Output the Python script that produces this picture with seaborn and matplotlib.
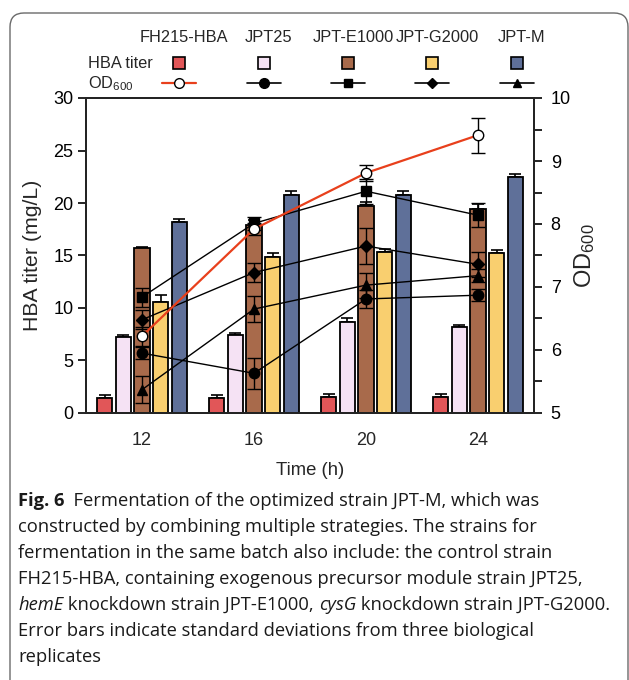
import numpy as np
import pandas as pd
import matplotlib
matplotlib.use("Agg")
import matplotlib.pyplot as plt
import seaborn as sns
from matplotlib.lines import Line2D
from matplotlib.patches import FancyBboxPatch, Rectangle
from matplotlib.transforms import IdentityTransform

# ---------------- data ----------------
times = ["12", "16", "20", "24"]
strains = ["FH215-HBA", "JPT25", "JPT-E1000", "JPT-G2000", "JPT-M"]

hba_fh215 = [1.4, 1.4, 1.5, 1.5]
hba_jpt25 = [7.2, 7.4, 8.7, 8.2]
hba_e1000 = [15.7, 17.9, 19.7, 19.4]
hba_g2000 = [10.6, 14.9, 15.3, 15.2]
hba_m = [18.2, 20.8, 20.8, 22.5]

hba_err_fh215 = [0.3, 0.3, 0.3, 0.3]
hba_err_jpt25 = [0.2, 0.2, 0.3, 0.2]
hba_err_e1000 = [0.1, 0.5, 0.4, 0.5]
hba_err_g2000 = [0.6, 0.3, 0.3, 0.3]
hba_err_m = [0.3, 0.3, 0.3, 0.3]

od_fh215 = [6.22, 7.92, 8.81, 9.41]
od_jpt25 = [5.95, 5.63, 6.81, 6.87]
od_e1000 = [6.84, 8.01, 8.52, 8.14]
od_g2000 = [6.48, 7.23, 7.65, 7.36]
od_m = [5.37, 6.65, 7.03, 7.18]

od_err_fh215 = [0.15, 0.1, 0.12, 0.28]
od_err_jpt25 = [0.1, 0.25, 0.15, 0.1]
od_err_e1000 = [0.15, 0.1, 0.2, 0.19]
od_err_g2000 = [0.15, 0.15, 0.29, 0.2]
od_err_m = [0.21, 0.2, 0.2, 0.1]

bar_colors = ["#E15658", "#F5E2F4", "#A86A4B", "#F9CF6F", "#5F7099"]
od_markers = ["o", "o", "s", "D", "^"]
od_facecolors = ["white", "black", "black", "black", "black"]
od_linecolors = ["#E8401C", "black", "black", "black", "black"]

caption_lines = [
    [("Fig. 6", "bold"), ("  Fermentation of the optimized strain JPT-M, which was", "normal")],
    [("constructed by combining multiple strategies. The strains for", "normal")],
    [("fermentation in the same batch also include: the control strain", "normal")],
    [("FH215-HBA, containing exogenous precursor module strain JPT25,", "normal")],
    [("hemE", "italic"), (" knockdown strain JPT-E1000, ", "normal"), ("cysG", "italic"),
     (" knockdown strain JPT-G2000.", "normal")],
    [("Error bars indicate standard deviations from three biological", "normal")],
    [("replicates", "normal")],
]

# ---------------- style ----------------
sns.set_theme(style="ticks")
plt.rcParams["font.family"] = ["Liberation Sans", "DejaVu Sans"]
plt.rcParams["mathtext.fontset"] = "custom"
plt.rcParams["mathtext.rm"] = "Liberation Sans"
plt.rcParams["mathtext.it"] = "Liberation Sans:italic"
plt.rcParams["axes.linewidth"] = 1.3

W, H = 629, 680
fig = plt.figure(figsize=(W / 100, H / 100), dpi=100)
fig.patch.set_facecolor("white")

def fx(px):
    return px / W

def fy(py):
    return 1 - py / H

ax = fig.add_axes([fx(86), fy(413), (534 - 86) / W, (413 - 98) / H])

hba_vals = [hba_fh215, hba_jpt25, hba_e1000, hba_g2000, hba_m]
hba_errs = [hba_err_fh215, hba_err_jpt25, hba_err_e1000, hba_err_g2000, hba_err_m]
rows = []
for s, vals in zip(strains, hba_vals):
    for t, v in zip(times, vals):
        rows.append({"Time": t, "Strain": s, "HBA": v})
df = pd.DataFrame(rows)

sns.barplot(data=df, x="Time", y="HBA", hue="Strain", order=times, hue_order=strains,
            palette=dict(zip(strains, bar_colors)), errorbar=None, width=0.83, gap=0.18,
            edgecolor="black", linewidth=1.3, saturation=1, legend=False, ax=ax, zorder=3)

for cont, errs, vals in zip(ax.containers, hba_errs, hba_vals):
    xs = [p.get_x() + p.get_width() / 2 for p in cont.patches]
    ax.errorbar(xs, vals, yerr=[np.zeros(len(errs)), errs], fmt="none", ecolor="black",
                elinewidth=1.2, capsize=4, capthick=1.2, zorder=2)

ax.set_ylim(0, 30)
ax.set_xlim(-0.5, 3.5)
ax.set_yticks(range(0, 31, 5))
ax.tick_params(axis="y", direction="out", length=6, width=1.2, labelsize=13, pad=3, colors="black")
ax.tick_params(axis="x", length=0, labelsize=13, pad=14)
ax.set_xlabel("Time (h)", fontsize=13.3, labelpad=9)
ax.set_ylabel("HBA titer (mg/L)", fontsize=15.3, labelpad=8)
for sp in ax.spines.values():
    sp.set_visible(True)
    sp.set_color("black")

ax2 = ax.twinx()
ax2.set_ylim(5, 10)
ax2.set_yticks(range(5, 11))
ax2.set_yticks(np.arange(5.5, 10, 1.0), minor=True)
ax2.tick_params(axis="y", which="both", direction="out", length=6, width=1.2,
                labelsize=13, pad=6, colors="black")
ax2.set_ylabel("OD$_{600}$", fontsize=17, labelpad=1, rotation=90)

od_vals = [od_fh215, od_jpt25, od_e1000, od_g2000, od_m]
od_errs = [od_err_fh215, od_err_jpt25, od_err_e1000, od_err_g2000, od_err_m]
xpos = np.arange(len(times))
order_draw = [1, 2, 3, 4, 0]
for k in order_draw:
    lw = 1.6 if k == 0 else 1.0
    ms = 7.5 if od_markers[k] == "o" else (6 if od_markers[k] == "D" else 6.5)
    ax2.errorbar(xpos, od_vals[k], yerr=od_errs[k], fmt="none", ecolor="black",
                 elinewidth=1.0, capsize=5, capthick=1.0, zorder=4)
    sns.lineplot(x=xpos, y=od_vals[k], ax=ax2, color=od_linecolors[k], linewidth=lw,
                 marker=od_markers[k], markersize=ms, markerfacecolor=od_facecolors[k],
                 markeredgecolor="black", markeredgewidth=1.0, zorder=5)

# ---------------- legend at top ----------------
leg_x = [179, 264, 348, 432, 517]
for name, x in zip(strains, leg_x):
    fig.text(fx(x + 5), fy(38), name, ha="center", va="center", fontsize=11.8)
fig.text(fx(88), fy(63), "HBA titer", ha="left", va="center", fontsize=11.8)
fig.text(fx(88), fy(84), "OD$_{600}$", ha="left", va="center", fontsize=11.8)
for k, x in enumerate(leg_x):
    r = Rectangle((x - 6, H - 63 - 6), 12, 12, facecolor=bar_colors[k], edgecolor="black",
                  linewidth=1.2, transform=IdentityTransform())
    fig.patches.append(r)
    ms = 7 if od_markers[k] == "o" else (5.5 if od_markers[k] == "D" else 6)
    ln = Line2D([x - 17, x + 17], [H - 83, H - 83], color=od_linecolors[k],
                linewidth=1.6 if k == 0 else 1.2, transform=IdentityTransform())
    mk = Line2D([x], [H - 83], marker=od_markers[k], markersize=ms, markerfacecolor=od_facecolors[k],
                markeredgecolor="black", markeredgewidth=1.0, linestyle="none",
                transform=IdentityTransform())
    fig.lines.extend([ln, mk])

# ---------------- frame ----------------
frame = FancyBboxPatch((10, -40), 618, H - 13 + 40, boxstyle="round,pad=0,rounding_size=14",
                       facecolor="none", edgecolor="#6a6a6a", linewidth=1.0,
                       transform=IdentityTransform())
fig.patches.append(frame)

# ---------------- caption ----------------
fig.canvas.draw()
renderer = fig.canvas.get_renderer()
cap_font = ["Open Sans", "DejaVu Sans"]
y0 = 501
for i, runs in enumerate(caption_lines):
    x = 18
    y = y0 + 26 * i
    for txt, style in runs:
        weight = "bold" if style == "bold" else "normal"
        fst = "italic" if style == "italic" else "normal"
        t = fig.text(fx(x), fy(y), txt, ha="left", va="center", fontsize=13.2,
                     family=cap_font, weight=weight, style=fst, color="#1a1a1a")
        bb = t.get_window_extent(renderer)
        x += bb.width

fig.savefig("out.png", dpi=100)
